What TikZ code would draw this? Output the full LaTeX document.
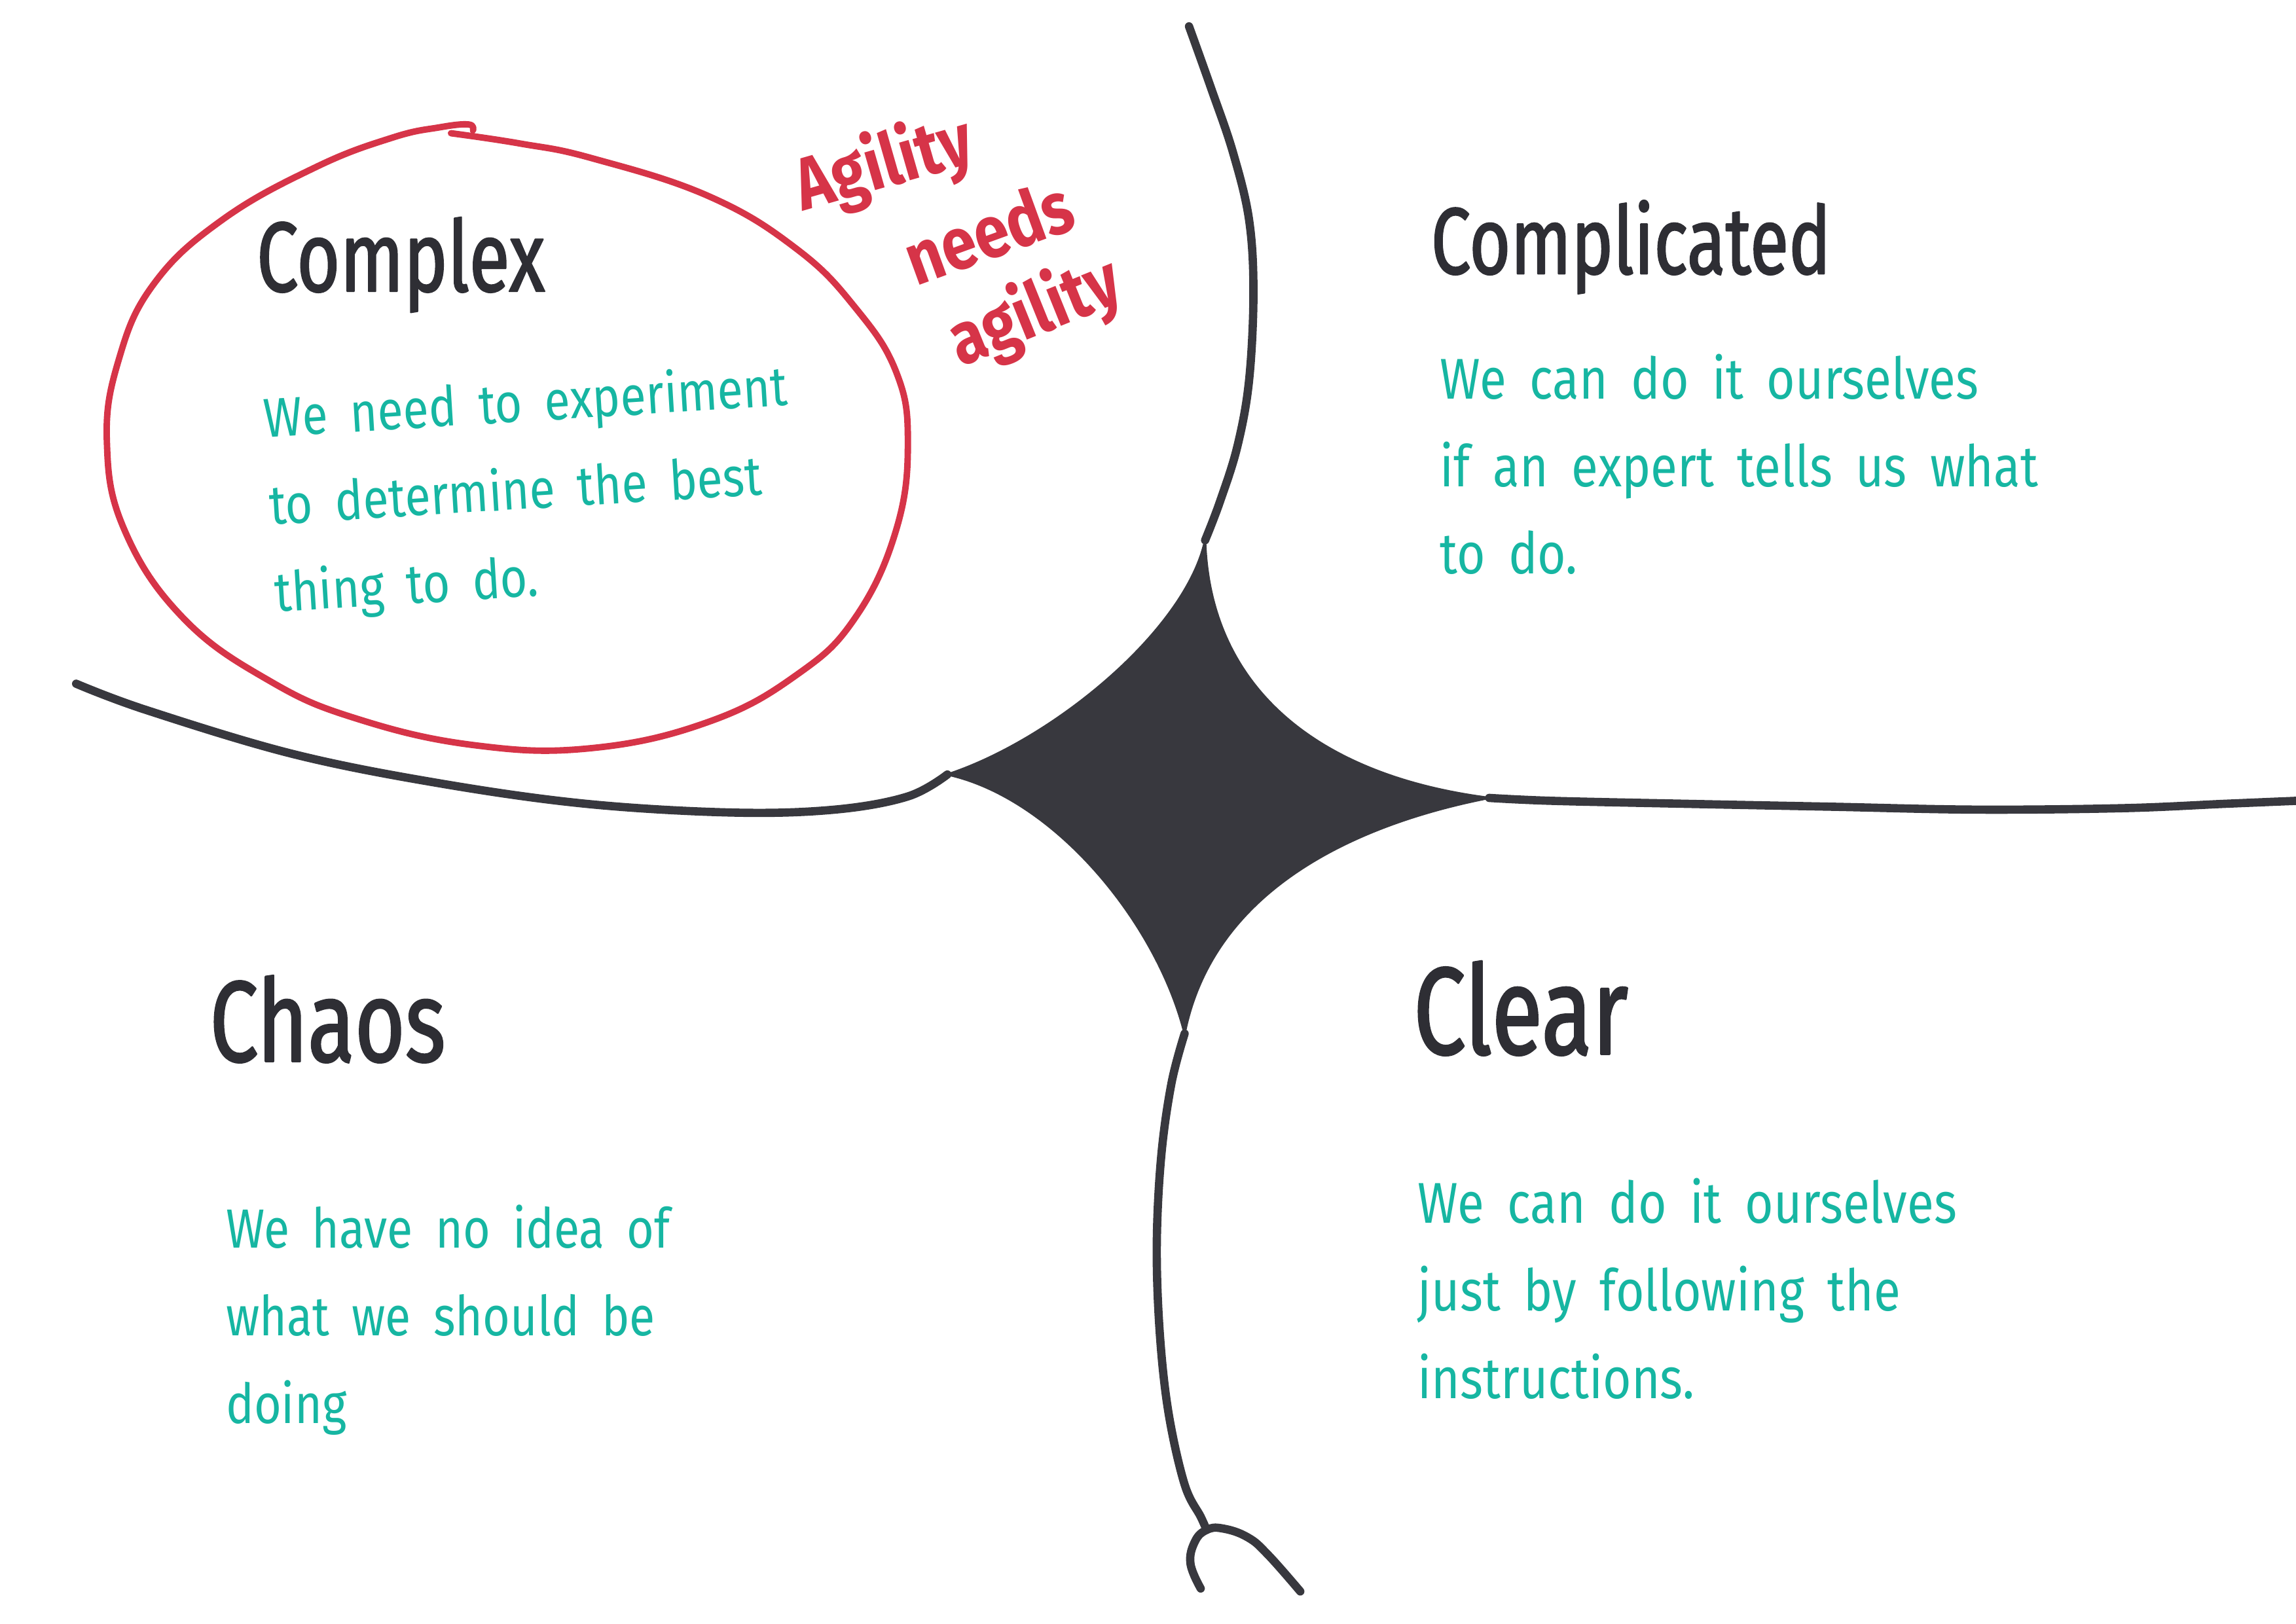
\documentclass[tikz,border=0pt]{standalone}
\usepackage{fontspec}
\setmainfont{Fira Sans}
\newfontfamily\handfont[FakeStretch=0.85]{Fira Sans}
\newfontfamily\headfont[FakeStretch=0.75, FakeBold=1.5]{Fira Sans}
\newfontfamily\notefont[FakeStretch=0.85, WordSpace=1.8]{Fira Sans}
\usepackage{tikz}
\usetikzlibrary{calc}
\definecolor{inkline}{RGB}{56,56,62}
\definecolor{inktitle}{RGB}{46,46,52}
\definecolor{inkteal}{RGB}{22,182,162}
\definecolor{inkred}{RGB}{214,52,72}

\begin{document}
\begin{tikzpicture}[x=0.022366cm, y=-0.022366cm, line cap=round, line join=round,
  border/.style={draw=inkline, line width=3.6pt},
  title/.style={text=inktitle, anchor=base west, inner sep=0pt,
    font=\headfont\fontsize{#1}{#1}\selectfont},
  note/.style={text=inkteal, anchor=base west, inner sep=0pt, align=left,
    font=\notefont\fontsize{#1}{38}\selectfont},
  slogan/.style={text=inkred, inner sep=0pt,
    font=\handfont\bfseries\fontsize{32}{32}\selectfont}]

% canvas: 1568 x 1109 units, y grows downwards
\useasboundingbox (0,0) rectangle (1568,1109);

%% ── central disorder patch ───────────────────────────────────────
\coordinate (hub-n) at (823,369);
\coordinate (hub-e) at (1017,545);
\coordinate (hub-s) at (809,706);
\coordinate (hub-w) at (647,529);
\filldraw[inkline, line width=1pt] (hub-n) .. controls (826,470) and (900,530) .. (hub-e)
  .. controls (940,560) and (830,600) .. (hub-s)
  .. controls (790,630) and (720,545) .. (hub-w)
  .. controls (720,505) and (810,430) .. cycle;

%% ── domain borders ───────────────────────────────────────────────
\draw[border] plot[smooth, tension=0.6] coordinates {(812,18) (827,60) (842,104) (853,150)
  (856,200) (853,260) (845,305) (833,343) (823,369)};
\draw[border] plot[smooth, tension=0.6] coordinates {(52,467) (100,485) (200,515) (300,535)
  (400,549) (500,555) (570,553) (620,544) (647,529)};
\draw[border] plot[smooth, tension=0.6] coordinates {(1017,545) (1060,547) (1150,549)
  (1250,551) (1350,553) (1450,552) (1520,549) (1568,547)};
\draw[border] plot[smooth, tension=0.6] coordinates {(809,706) (800,740) (793,790) (790,850)
  (792,910) (798,965) (809,1014) (820,1036) (824,1045)};
% little cliff at the bottom
\draw[border] plot[smooth, tension=0.7] coordinates {(820,1085) (813,1068) (816,1053) (824,1045)
  (835,1044) (852,1050) (866,1062) (888,1087)};

%% ── red loop round the complex domain ────────────────────────────
\draw[inkred, line width=2.8pt] plot[smooth, tension=0.7] coordinates {(308,91) (355,98)
  (404,108) (484,134) (544,170) (584,210) (612,254) (620,302) (612,362) (584,422)
  (544,461) (484,493) (404,511) (324,509) (244,491) (184,465) (125,422) (85,362)
  (73,302) (81,246) (105,194) (152,150) (216,114) (268,94) (300,87) (320,85) (323,89)};

\node[slogan, rotate=16] (agility) at (604,113) {Agility};
\node[slogan, rotate=20] (needs) at (675,158) {needs};
\node[slogan, rotate=22] (agility2) at (707,214) {agility};

%% ── domain titles ────────────────────────────────────────────────
\node[title=43] (complex) at (175,199) {Complex};
\node[title=41] (complicated) at (977,187) {Complicated};
\node[title=50] (chaos) at (143,725) {Chaos};
\node[title=54] (clear) at (965,720) {Clear};

%% ── descriptions (anchored at the last line) ─────────────────────
\node[note=24, rotate=3.5] (complex-txt) at (188,418) {We need to experiment\\to determine the best\\thing to do.};
\node[note=25] (complicated-txt) at (983,392) {We can do it ourselves\\if an expert tells us what\\to do.};
\node[note=24] (chaos-txt) at (154,972) {We have no idea of\\what we should be\\doing};
\node[note=25] (clear-txt) at (968,955) {We can do it ourselves\\just by following the\\instructions.};

\end{tikzpicture}
\end{document}
